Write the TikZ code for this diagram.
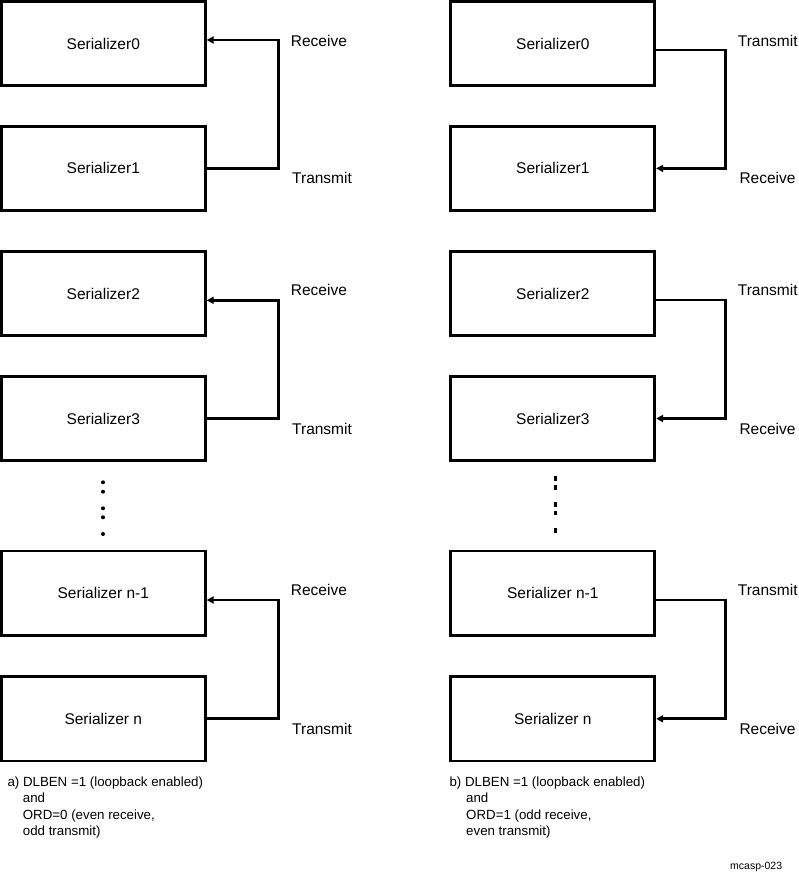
\documentclass[tikz,border=0pt]{standalone}
\usepackage{fontspec}
\setmainfont{Liberation Sans}
\usetikzlibrary{arrows.meta,positioning,calc}

\begin{document}
\begin{tikzpicture}[
  x=1pt,y=-1pt,>={Triangle[length=7pt,width=7pt]},
  ser/.style={draw,line width=2.7pt,minimum width=204pt,minimum height=84.4pt,inner sep=0pt,font=\fontsize{15.5}{18}\selectfont},
  lab/.style={anchor=west,inner sep=0pt,font=\fontsize{15.5}{18}\selectfont},
  note/.style={anchor=north west,inner sep=0pt,align=left,font=\fontsize{13.3}{16.4}\selectfont},
  link/.style={->,line width=2.7pt}
]
\useasboundingbox (0,0) rectangle (798,874);

% ---- serializer boxes ----
\foreach \i/\y/\t in {0/43.5/Serializer0,1/168.4/Serializer1,2/293.5/Serializer2,
                      3/418.5/Serializer3,4/593.2/Serializer n-1,5/718.8/Serializer n} {
  \node[ser] (l\i) at (103.3,\y) {\t};
  \node[ser] (r\i) at (552.8,\y) {\t};
}

% ---- labels ----
\foreach \k/\a/\b in {0/40.7/178.3,1/290/429.3,2/590/729.3} {
  \node[lab] (lrx\k) at (290.7,\a) {Receive};
  \node[lab] (ltx\k) at (292,\b) {Transmit};
  \node[lab] (rtx\k) at (737.7,\a) {Transmit};
  \node[lab] (rrx\k) at (739.3,\b) {Receive};
}

% ================= a) ORD=0 =================
\draw[link] (l1.east) -- ++(71.5,0) |- ([yshift=3.5pt]l0.east);
\draw[link] (l3.east) -- ++(71.5,0) |- ([yshift=-6.8pt]l2.east);
\draw[link] (l5.east) -- ++(71.5,0) |- ([yshift=-6.8pt]l4.east);

% ================= b) ORD=1 =================
\draw[link] ([yshift=-6.5pt]r0.east) -- ++(69,0) |- (r1.east);
\draw[link] ([yshift=-6.5pt]r2.east) -- ++(69,0) |- (r3.east);
\draw[link] ([yshift=-6.8pt]r4.east) -- ++(69,0) |- (r5.east);

% ---- continuation dots ----
\foreach \y in {482.3,491.7,508.3,517.3,534} {\fill (103,\y) circle (2);}
\foreach \y in {478.3,487.2,504.2,513,530.2} {\fill (554,\y-2.4) rectangle (556.7,\y+2.4);}

% ---- captions ----
\node[note] (capa) at (7.3,776.5) {a) DLBEN =1 (loopback enabled)\\\hspace*{15.4pt}and\\\hspace*{15.4pt}ORD=0 (even receive,\\\hspace*{15.4pt}odd transmit)};
\node[note] (capb) at (449.3,776.5) {b) DLBEN =1 (loopback enabled)\\\hspace*{16.7pt}and\\\hspace*{16.7pt}ORD=1 (odd receive,\\\hspace*{16.7pt}even transmit)};
\node[anchor=west,inner sep=0pt,font=\fontsize{10.5}{12}\selectfont] (fig) at (730,867) {mcasp-023};
\end{tikzpicture}
\end{document}
